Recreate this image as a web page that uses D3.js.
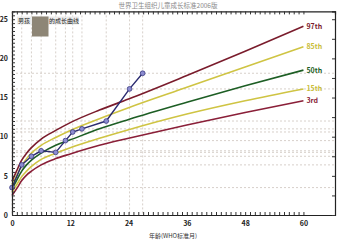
<!DOCTYPE html>
<html>
<head>
<meta charset="utf-8">
<script src="https://cdn.jsdelivr.net/npm/d3@7"></script>
<style>
  body { margin: 0; background: #fff; }
  text { font-family: "Noto Sans CJK SC", "DejaVu Sans", sans-serif; }
</style>
</head>
<body>
<script>
  var width = 340;
  var height = 250;

  // WHO reference curves (months, kg)
  var months = [0, 1, 2, 3, 4, 6, 9, 12, 18, 24, 36, 48, 60];
  var p3  = [2.5, 3.4, 4.4, 5.1, 5.6, 6.4, 7.2, 7.8, 8.9, 9.8, 11.5, 13.1, 14.6];
  var p15 = [2.9, 3.9, 4.9, 5.6, 6.2, 7.1, 7.9, 8.6, 9.8, 10.9, 12.9, 14.6, 16.1];
  var p50 = [3.3, 4.5, 5.6, 6.4, 7.0, 7.9, 8.9, 9.6, 11.0, 12.2, 14.4, 16.5, 18.5];
  var p85 = [3.9, 5.1, 6.3, 7.2, 7.9, 8.9, 9.9, 10.8, 12.3, 13.7, 16.3, 18.9, 21.5];
  var p97 = [4.3, 5.7, 7.0, 7.9, 8.6, 9.7, 10.8, 11.8, 13.4, 14.8, 17.8, 20.9, 24.1];
  var curveNames = ["3rd", "15th", "50th", "85th", "97th"];
  var curveColors = ["#8a1f38", "#cfc443", "#1d5e24", "#cfc443", "#7a1c2c"];
  var labelColors = ["#8a1f38", "#c9bd3a", "#1d5e24", "#c9bd3a", "#7a1c2c"];

  // the child's measurements
  var childAge = [0, 2, 4, 6, 9, 11, 12.5, 14.4, 19.4, 24.2, 26.9];
  var childWeight = [3.5, 6.4, 7.5, 8.2, 8.0, 9.5, 10.6, 11.0, 12.0, 16.1, 18.1];

  var xTicks = [0, 12, 24, 36, 48, 60];
  var yTicks = [0, 5, 10, 15, 20, 25];

  var xScale = d3.scaleLinear().domain([0, 66.5]).range([12, 335]);
  var yScale = d3.scaleLinear().domain([0, 26]).range([215, 11.4]);

  var svg = d3.select("body").append("svg")
    .attr("width", width)
    .attr("height", height);

  // grid lines through each measurement
  svg.selectAll("line.vgrid")
    .data(childAge)
    .enter().append("line")
    .attr("class", "vgrid")
    .attr("x1", function (d) { return xScale(d); })
    .attr("x2", function (d) { return xScale(d); })
    .attr("y1", yScale(26)).attr("y2", yScale(0))
    .attr("stroke", "#d3cbc4").attr("stroke-width", 0.9)
    .attr("stroke-dasharray", "2,2");

  svg.selectAll("line.hgrid")
    .data(childWeight)
    .enter().append("line")
    .attr("class", "hgrid")
    .attr("y1", function (d) { return yScale(d); })
    .attr("y2", function (d) { return yScale(d); })
    .attr("x1", xScale(0)).attr("x2", xScale(66.5))
    .attr("stroke", "#d3cbc4").attr("stroke-width", 0.9)
    .attr("stroke-dasharray", "2,2");

  // percentile curves
  var curves = [p3, p15, p50, p85, p97];
  var line = d3.line()
    .x(function (d, i) { return xScale(months[i]); })
    .y(function (d) { return yScale(d); })
    .curve(d3.curveMonotoneX);

  curves.forEach(function (c, k) {
    svg.append("path")
      .attr("d", line(c))
      .attr("fill", "none")
      .attr("stroke", curveColors[k])
      .attr("stroke-width", 1.6);
    svg.append("text")
      .attr("x", xScale(60) + 3)
      .attr("y", yScale(c[c.length - 1]))
      .attr("dy", "0.35em")
      .attr("font-size", 7)
      .attr("font-weight", 600)
      .attr("fill", labelColors[k])
      .text(curveNames[k]);
  });

  // child line
  var childLine = d3.line()
    .x(function (d, i) { return xScale(childAge[i]); })
    .y(function (d) { return yScale(d); });

  svg.append("path")
    .attr("d", childLine(childWeight))
    .attr("fill", "none")
    .attr("stroke", "#2b2b70")
    .attr("stroke-width", 1.4);

  svg.selectAll("circle")
    .data(childWeight)
    .enter().append("circle")
    .attr("cx", function (d, i) { return xScale(childAge[i]); })
    .attr("cy", function (d) { return yScale(d); })
    .attr("r", 2.4)
    .attr("fill", "#8c8cd0")
    .attr("stroke", "#3a3a80")
    .attr("stroke-width", 0.8);

  // axes with monthly / half-kg minor ticks
  var minorX = d3.range(0, 61, 1);
  var minorY = d3.range(0, 26.01, 0.5);

  var axBottom = svg.append("g")
    .attr("transform", "translate(0," + yScale(0) + ")")
    .call(d3.axisBottom(xScale).tickValues(xTicks).tickSize(0).tickPadding(6));
  axBottom.selectAll("text").attr("font-size", 7).attr("font-weight", 600).attr("fill", "#222");
  axBottom.select(".domain").attr("stroke", "#222").attr("stroke-width", 1.2);

  var axLeft = svg.append("g")
    .attr("transform", "translate(" + xScale(0) + ",0)")
    .call(d3.axisLeft(yScale).tickValues(yTicks).tickSize(0).tickPadding(4));
  axLeft.selectAll("text").attr("font-size", 7).attr("font-weight", 600).attr("fill", "#222");
  axLeft.select(".domain").attr("stroke", "#222").attr("stroke-width", 1.2);

  var axTop = svg.append("g")
    .attr("transform", "translate(0," + yScale(26) + ")")
    .call(d3.axisTop(xScale).tickValues(minorX).tickSize(-3).tickFormat(""));
  axTop.select(".domain").attr("stroke", "#222").attr("stroke-width", 1.2);

  var axRight = svg.append("g")
    .attr("transform", "translate(" + xScale(66.5) + ",0)")
    .call(d3.axisRight(yScale).tickValues(d3.range(0, 26, 2.5)).tickSize(-3).tickFormat(""));
  axRight.select(".domain").attr("stroke", "#222").attr("stroke-width", 1.2);

  svg.append("g")
    .attr("transform", "translate(0," + yScale(0) + ")")
    .call(d3.axisBottom(xScale).tickValues(minorX).tickSize(-3).tickFormat(""))
    .select(".domain").remove();

  svg.append("g")
    .attr("transform", "translate(" + xScale(0) + ",0)")
    .call(d3.axisLeft(yScale).tickValues(minorY).tickSize(-3).tickFormat(""))
    .select(".domain").remove();

  svg.selectAll(".tick line").attr("stroke", "#333");

  // title and axis label
  svg.append("text")
    .attr("x", 168).attr("y", 8)
    .attr("text-anchor", "middle")
    .attr("font-size", 6.5)
    .attr("fill", "#8a8a8a")
    .text("世界卫生组织儿童成长标准2006版");

  svg.append("text")
    .attr("x", 173).attr("y", 238)
    .attr("text-anchor", "middle")
    .attr("font-size", 6)
    .attr("fill", "#333")
    .text("年龄(WHO标准月)");

  // legend caption with hidden name
  svg.append("rect")
    .attr("x", 17).attr("y", 16.5).attr("width", 62).attr("height", 8)
    .attr("fill", "#ececec");
  svg.append("text")
    .attr("x", 18).attr("y", 23)
    .attr("font-size", 6)
    .attr("fill", "#222")
    .text("男孩");
  svg.append("rect")
    .attr("x", 32).attr("y", 16.5).attr("width", 16.5).attr("height", 20)
    .attr("fill", "#8e8676");
  svg.append("text")
    .attr("x", 49).attr("y", 23)
    .attr("font-size", 6)
    .attr("fill", "#222")
    .text("的成长曲线");
</script>
</body>
</html>
